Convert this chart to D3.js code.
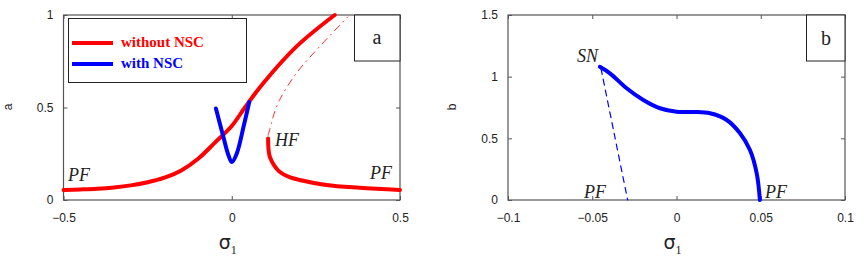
<!DOCTYPE html>
<meta charset="utf-8">
<script src="https://d3js.org/d3.v7.min.js"></script>
<style>
  body { margin: 0; background: #fff; }
  text { fill: #222; }
  .tick-label { font-family: "Liberation Sans", Arial, sans-serif; font-size: 12px; }
  .note { font-family: "Liberation Serif", "Times New Roman", serif; font-style: italic; font-size: 18px; fill: #222; }
</style>
<body>
<script>
  // panel a : sigma_1 vs a
  var aXTicks = [-0.5, 0, 0.5];
  var aYTicks = [0, 0.5, 1];
  var withoutStable = [[-0.5,0.054],[-0.45,0.057],[-0.4,0.061],[-0.35,0.068],[-0.3,0.079],[-0.25,0.096],
    [-0.2,0.121],[-0.15,0.16],[-0.1,0.223],[-0.05,0.31],[0,0.40],[0.039,0.50],[0.093,0.63],
    [0.192,0.829],[0.306,1.0]];
  var withoutHF = [[0.108,0.333],[0.109,0.28],[0.113,0.234],[0.125,0.19],[0.142,0.153],[0.17,0.125],
    [0.202,0.108],[0.281,0.081],[0.38,0.066],[0.5,0.054]];
  var withoutUnstable = [[0.108,0.35],[0.118,0.414],[0.123,0.45],[0.142,0.54],[0.192,0.685],
    [0.261,0.829],[0.345,0.99]];
  var withNSC = [[-0.047,0.495],[-0.025,0.342],[-0.01,0.243],[0,0.205],[0.015,0.252],[0.035,0.396],[0.052,0.53]];

  // panel b : sigma_1 vs b
  var bXTicks = [-0.1, -0.05, 0, 0.05, 0.1];
  var bYTicks = [0, 0.5, 1, 1.5];
  var bStable = [[-0.0455,1.08],[-0.0395,1.027],[-0.0296,0.906],[-0.0197,0.811],[-0.0098,0.744],
    [0,0.716],[0.01,0.714],[0.0199,0.703],[0.0298,0.649],[0.0377,0.541],[0.0436,0.405],
    [0.0476,0.216],[0.0495,0]];
  var bUnstable = [[-0.0448,1.065],[-0.037,0.54],[-0.029,0]];

  var svg = d3.select("body").append("svg")
    .attr("width", 865)
    .attr("height", 265);

  // one framed MATLAB-style axes box
  function panel(x0, x1, xdom, ydom, xticks, yticks, ylabel) {
    var x = d3.scaleLinear().domain(xdom).range([x0, x1]);
    var y = d3.scaleLinear().domain(ydom).range([200, 15]);
    var g = svg.append("g");

    g.append("g").attr("transform", "translate(0,200)")
      .call(d3.axisBottom(x).tickValues(xticks).tickSize(-4).tickPadding(13)
        .tickFormat(function(d) { return d3.format("")(d).replace("-", "\u2212"); }));
    g.append("g").attr("transform", "translate(" + x0 + ",0)")
      .call(d3.axisLeft(y).tickValues(yticks).tickSize(-4).tickPadding(10).tickFormat(d3.format("")));
    g.append("g").attr("transform", "translate(0,15)")
      .call(d3.axisTop(x).tickValues(xticks).tickSize(-4).tickFormat(""));
    g.append("g").attr("transform", "translate(" + x1 + ",0)")
      .call(d3.axisRight(y).tickValues(yticks).tickSize(-4).tickFormat(""));
    g.selectAll(".domain").remove();
    g.selectAll(".tick line").attr("stroke", "#555");
    g.selectAll(".tick text").attr("class", "tick-label").attr("fill", "#222").style("font-size", "12px");

    g.append("rect")
      .attr("x", x0).attr("y", 15)
      .attr("width", x1 - x0).attr("height", 185)
      .attr("fill", "none").attr("stroke", "#555").attr("stroke-width", 1.2);

    g.append("text")
      .attr("transform", "translate(" + (x0 - 52) + ",107) rotate(-90)")
      .attr("text-anchor", "middle")
      .style("font-family", "Liberation Sans, Arial, sans-serif")
      .style("font-size", "12px")
      .text(ylabel);

    var xl = g.append("text")
      .attr("x", (x0 + x1) / 2 - 4).attr("y", 249)
      .attr("text-anchor", "middle")
      .style("font-family", "DejaVu Sans, sans-serif")
      .style("font-size", "19px")
      .text("\u03c3");
    xl.append("tspan").attr("dy", 5).style("font-size", "12px")
      .style("font-family", "Liberation Serif, serif").text("1");

    return { x: x, y: y, g: g };
  }

  function curve(p, data, color, width, dash) {
    var line = d3.line()
      .x(function(d) { return p.x(d[0]); })
      .y(function(d) { return p.y(d[1]); })
      .curve(d3.curveCatmullRom.alpha(0.5));
    p.g.append("path")
      .datum(data)
      .attr("d", line)
      .attr("fill", "none")
      .attr("stroke", color)
      .attr("stroke-width", width)
      .attr("stroke-linecap", "round")
      .attr("stroke-dasharray", dash || null);
  }

  function note(p, sx, sy, txt, anchor) {
    p.g.append("text").attr("class", "note")
      .attr("x", sx).attr("y", sy)
      .attr("text-anchor", anchor || "start")
      .text(txt);
  }

  // ---- panel a
  var pa = panel(63.5, 400, [-0.5, 0.5], [0, 1], aXTicks, aYTicks, "a");
  curve(pa, withoutUnstable, "#ff2a2a", 1, "7,5,1,5");
  curve(pa, withoutStable, "#ff0000", 4);
  curve(pa, withoutHF, "#ff0000", 4);
  curve(pa, withNSC, "#0000ff", 4);
  note(pa, 68, 181, "PF");
  note(pa, 275, 146, "HF");
  note(pa, 370, 179, "PF");

  // legend
  pa.g.append("rect").attr("x", 68.5).attr("y", 18.5).attr("width", 178).attr("height", 64)
    .attr("fill", "#fff").attr("stroke", "#222").attr("stroke-width", 1);
  var legend = [["without NSC", "#ff0000", 43], ["with NSC", "#0000ff", 64]];
  legend.forEach(function(l) {
    pa.g.append("line").attr("x1", 72).attr("x2", 113).attr("y1", l[2]).attr("y2", l[2])
      .attr("stroke", l[1]).attr("stroke-width", 4);
    pa.g.append("text").attr("x", 121).attr("y", l[2] + 4)
      .style("font-family", "Liberation Serif, serif").style("font-weight", "bold")
      .style("font-size", "15px").style("fill", l[1]).text(l[0]);
  });

  // panel tag a
  pa.g.append("rect").attr("x", 354.5).attr("y", 15).attr("width", 45.5).attr("height", 46)
    .attr("fill", "#fff").attr("stroke", "#222");
  pa.g.append("text").attr("x", 377).attr("y", 44).attr("text-anchor", "middle")
    .style("font-family", "Liberation Serif, serif").style("font-size", "20px").text("a");

  // ---- panel b
  var pb = panel(508, 845, [-0.1, 0.1], [0, 1.5], bXTicks, bYTicks, "b");
  curve(pb, bUnstable, "#0000ff", 1.2, "6,5");
  curve(pb, bStable, "#0000ff", 4);
  note(pb, 577, 62, "SN");
  note(pb, 584, 198, "PF");
  note(pb, 765, 198, "PF");

  pb.g.append("rect").attr("x", 806.5).attr("y", 15).attr("width", 38.5).attr("height", 46)
    .attr("fill", "#fff").attr("stroke", "#222");
  pb.g.append("text").attr("x", 826).attr("y", 45).attr("text-anchor", "middle")
    .style("font-family", "Liberation Serif, serif").style("font-size", "20px").text("b");
</script>
</body>
